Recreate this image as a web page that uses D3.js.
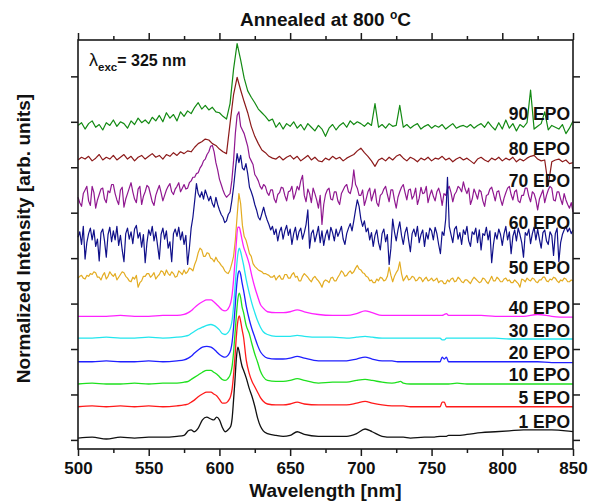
<!DOCTYPE html>
<html>
<head>
<meta charset="utf-8">
<script src="https://cdn.jsdelivr.net/npm/d3@7"></script>
<style>
  html, body { margin: 0; padding: 0; background: #fff; }
  svg { display: block; font-family: "Liberation Sans", Arial, Helvetica, sans-serif; }
</style>
</head>
<body>
<svg id="chart" width="598" height="503"></svg>
<script>
// ---- Photoluminescence spectra, normalized (peak = 100) and stacked ----

// wavelength grid for the low-noise spectra (nm)
const wlFine = [
  500, 510, 520, 530, 540, 550, 560, 570, 575, 578,
  580, 582, 585, 588, 591, 594, 596, 598, 600, 602,
  604, 606, 608, 609, 610, 611, 612, 613, 614, 615,
  616, 617, 619, 621, 623, 625, 627, 629, 631, 634,
  640, 645, 650, 655, 660, 670, 680, 690, 697, 703,
  708, 715, 722, 726, 728, 730, 735, 745, 752, 756,
  757.5, 759, 760.5, 762, 768, 775, 785, 795, 805, 815,
  825, 835, 845, 850
];

const epo1 = [
  0, 1, -1, 1, 0, 1, 1, 2, 3, 8,
  9, 7, 11, 20, 23, 21, 20, 23, 20, 12,
  7, 9, 13, 22, 42, 64, 88, 100, 95, 86,
  79, 75, 66, 55, 46, 35, 22, 13, 8, 5,
  3, 2, 3, 7, 4, 2, 2, 2, 5, 10,
  7, 2, 1, 1, 1, 1, 0, 1, 1, 2,
  2, 2, 2, 3, 3, 4, 6, 7, 8, 9,
  9, 9, 8, 7
];
const epo5 = [
  0, 1, 0, 1, 0, 1, 0, 1, 2, 3,
  5, 7, 11, 14, 16, 16, 14, 12, 8, 4,
  4, 6, 12, 20, 35, 55, 78, 94, 100, 94,
  85, 77, 51, 37, 28, 22, 16, 10, 6, 3,
  2, 2, 3, 5, 3, 2, 2, 2, 4, 6,
  4, 2, 1, 1, 1, 1, 0, 0, 0, 0,
  5, 5, 0, 0, 0, 0, 0, 0, 0, 0,
  0, 0, 0, 0
];
const epo10 = [
  0, 1, 0, 0, 1, 0, 1, 1, 2, 3,
  5, 7, 10, 13, 15, 15, 13, 11, 8, 5,
  4, 6, 12, 20, 35, 55, 76, 93, 100, 95,
  85, 79, 64, 56, 44, 33, 24, 14, 8, 4,
  3, 3, 4, 6, 4, 1, 2, 2, 4, 5,
  4, 2, 1, 2, 3, 1, 0, 0, 0, 0,
  0, 0, 0, 0, 1, 0, 0, 0, 0, 0,
  0, 0, 0, 0
];
const epo20 = [
  0, 0, 1, 0, 0, 1, 0, 1, 2, 4,
  6, 9, 13, 16, 17, 16, 14, 11, 8, 6,
  5, 7, 13, 22, 38, 58, 80, 95, 100, 96,
  87, 79, 61, 47, 36, 27, 18, 11, 7, 4,
  3, 3, 4, 6, 4, 1, 1, 1, 3, 5,
  3, 1, 1, 0, 0, 0, 0, 0, 0, 0,
  5, 3, 5, 0, 0, 0, 0, 0, 0, 0,
  0, -1, -1, -1
];
const epo30 = [
  0, 0, 1, 0, 0, 1, 0, 1, 2, 3,
  5, 7, 10, 12, 14, 15, 14, 12, 9, 5,
  4, 6, 12, 20, 35, 55, 76, 92, 99, 95,
  88, 81, 64, 50, 38, 28, 19, 12, 7, 4,
  2, 2, 2, 3, 2, 1, 1, 0, 1, 2,
  1, 0, 0, 0, 0, 0, 0, 0, 0, 0,
  -2, -2, 0, 0, 0, 0, 0, 0, -1, -1,
  -1, -1, -1, -1
];
const epo40 = [
  0, 0, 0, 1, 0, 0, 1, 1, 2, 4,
  6, 9, 13, 16, 18, 18, 16, 13, 10, 7,
  6, 8, 15, 24, 40, 60, 82, 98, 98, 92,
  84, 77, 68, 58, 44, 32, 22, 13, 9, 5,
  4, 4, 5, 7, 5, 2, 1, 1, 3, 6,
  4, 1, 1, 1, 1, 1, 1, 1, 1, 1,
  1, 2, 3, 1, 1, 1, 1, 0, 0, 0,
  2, 0, -1, -1
];

// the noisiest spectra are sampled every 1.25 nm, the others every 2.5 nm
const wlDense = d3.range(500, 850.01, 1.25);
const wlCoarse = d3.range(500, 850.01, 2.5);

// one row = 25 nm
const epo50 = [
  0, 2, 3, 0, -1, 3, 2, 5, 4, 7, 6, 1, 1, -2, 3, 6, -1, 2, 7, 4,
  2, 5, -2, 1, 4, 7, 6, 2, 0, -3, -4, 1, -1, 3, -10, -5, -3, 2, 2, 5,
  5, 1, 3, 6, -1, 2, 4, 8, 7, 3, 9, 5, 3, 7, 5, 1, 2, 8, 6, 4,
  9, 5, 7, 11, 10, 8, 15, 20, 28, 33, 31, 24, 24, 28, 27, 22, 21, 18, 23, 19,
  17, 14, 12, 8, 6, 5, 9, 16, 24, 42, 68, 93, 82, 58, 46, 42, 35, 27, 24, 16,
  13, 11, 9, 8, 7, 5, 5, 4, 3, 1, 1, 3, -2, 1, 3, -1, -1, 4, 4, 0,
  0, 4, 6, 1, 2, -3, -3, 2, 5, 3, 1, -2, -4, 0, 2, -1, -3, -6, -10, -4,
  -2, -3, -5, 0, 1, -3, -3, 1, 4, 8, 6, 2, 3, 6, 8, 5, 7, 11, 14, 10,
  9, 6, 5, 2, 1, -3, -2, -5, -5, -1, -3, 1, 0, -3, -2, 2, 12, 3, -4, 2,
  6, 9, 18, 5, -3, 0, 3, -2, -1, 2, 1, -3, -2, 1, 0, -4, -1, 1, -3, -2,
  0, -3, -2, 0, -5, -3, -3, -6, -6, -2, -4, -1, 0, -4, -3, 1, -1, -4, -5, -2,
  -2, -4, -6, -2, 1, -1, -3, -5, -4, 0, -1, -4, -6, -2, 2, -3, -3, 1, -1, -4,
  -4, -1, 0, -3, -2, -5, -5, -2, -4, -6, -10, -1, -2, -4, 0, -2, -3, 0, -1, -4,
  -5, -2, -2, 1, 1, -3, -4, -1, -2, 1, 0, -3, -5, -2, -3, 0, -1, -4, -4, -2,
  -3
];
const epo60 = [
  0, 6, -8, 12, -24, -6, 4, 10, -3, 8, -10, -2, -26, 5, 9, -4, -22, 3, 11, -5,
  7, -3, 12, -9, 2, -14, -27, 4, 10, -2, 6, -7, 9, 13, -1, 5, -11, 3, -28, -6,
  8, 2, 12, -4, 6, -9, -24, 3, 10, -2, 7, -12, -5, -27, 4, 9, 1, 11, -3, 6,
  -8, 2, -30, -12, 10, 22, 40, 59, 48, 44, 50, 42, 52, 46, 40, 45, 37, 33, 44, 36,
  30, 25, 22, 16, 18, 25, 28, 40, 55, 74, 92, 82, 90, 76, 74, 81, 70, 55, 50, 44,
  36, 30, 22, 19, 26, 33, 25, 19, 14, 8, 12, 3, 9, -4, 6, 11, -2, 7, 13, 2,
  9, -8, 4, 11, -3, 6, 10, -2, 5, 14, 30, -12, 4, 8, -5, 3, 12, -6, 7, -9,
  2, 8, -3, 11, 5, -4, 9, 1, 6, 12, -2, -8, 4, 10, 15, 7, 18, 30, 41, 34,
  20, 12, 18, 6, 10, -3, 5, -10, 2, 8, -6, -14, 4, 9, -5, 3, -30, -12, 20, 6,
  -4, 8, 17, 2, -8, 5, 11, -3, -16, 4, 9, 1, 12, -6, 3, 8, -10, 5, -2, 10,
  7, -3, 11, 4, -8, -18, 6, 2, 20, 66, 12, 3, -6, 9, 12, -2, 5, -8, 8, 3,
  12, -4, -10, 6, 3, 10, -6, 8, -14, 4, 2, 11, -3, 7, -28, -8, 5, -2, 9, 3,
  -9, 4, 12, -3, 6, -18, 1, 8, -4, 10, 3, -6, -22, 5, 2, 9, -7, 4, 11, -3,
  9, -2, -12, 5, 8, -4, -8, 6, 2, -20, 4, 10, -27, -6, 3, 8, 12, 6, 10, 4,
  8
];
const epo70 = [
  0, -6, -10, 4, 8, 12, -4, -9, 12, 5, -12, -3, 3, 9, 10, -2, -6, 7, 5, 14,
  14, 4, -3, -8, 8, 11, -11, -2, 4, 10, 16, 6, -2, -6, 9, 12, -8, 1, 6, 13,
  11, 3, -5, -9, 2, 8, 13, 5, -4, 2, 8, 12, 15, 6, 3, 9, 12, 16, 6, 10,
  14, 9, 10, 16, 18, 22, 22, 26, 27, 32, 35, 40, 42, 47, 50, 56, 57, 50, 38, 30,
  20, 14, 8, 3, 0, 2, 4, 18, 40, 70, 90, 94, 78, 74, 70, 63, 56, 44, 40, 36,
  25, 22, 18, 12, 9, 14, 12, 5, 2, 8, 8, -2, -6, 3, 5, 11, 10, 2, -4, 6,
  7, 12, -2, 4, 12, 8, 18, 24, 2, -5, 9, 4, -6, 10, 4, -3, -12, 2, -30, -8,
  3, 8, 10, -2, -3, 6, 6, -4, -8, 4, 8, 12, 14, 6, 4, 12, 30, 14, 10, 2,
  2, 8, -9, -2, 6, 10, -4, 3, 9, -6, -10, 2, 4, 9, 12, 3, -5, 8, 8, -3,
  -12, 0, 6, 11, 14, 5, -3, 8, 9, -2, 2, 10, -8, -1, 11, 4, 5, 12, -6, 2,
  8, 1, -4, 6, 10, 3, -9, 4, 2, 9, 12, 5, -5, 3, 6, 12, 10, 6, 17, 9,
  4, 10, -8, -2, 9, 4, -2, 8, 6, -4, -10, 2, 3, 9, 11, 4, -4, 6, 7, -2,
  -9, -1, 5, 10, 12, 3, -3, 6, 8, -4, -6, 2, 2, 10, 10, 1, -5, 6, 4, -3,
  -14, -2, 3, 8, -6, 2, 8, 12, 10, -3, -4, 6, 6, -2, -8, 4, -3, -8, -12, -6,
  -16
];
// one row = 25 nm
const epo80 = [
  -2, 1, -1, 2, -3, 0, 4, -2, 1, -1,
  3, -2, 1, 4, -1, 2, -3, 1, 3, -1,
  2, 5, 1, 3, -1, 4, 2, 6, 3, 7,
  5, 8, 7, 12, 16, 18, 21, 20, 16, 14,
  10, 7, 5, 38, 70, 89, 75, 62, 50, 35,
  24, 16, 9, 6, 2, 0, -1, 2, -2, 1,
  3, -1, 2, -3, 0, 3, -2, 1, -3, -4,
  0, -2, 2, -1, 1, -3, 0, 2, 4, 8,
  11, 6, 2, -3, -9, -2, 0, -3, 1, -2,
  2, 4, 0, -3, 1, -1, -4, 0, -2, 1,
  -3, 0, -1, 2, -2, 0, -4, -1, 1, -2,
  0, -3, -6, -1, 1, -2, -4, 0, -2, 1,
  -3, 0, -2, 1, -4, -1, -3, 0, 2, 3,
  -1, -3, -2, -30, -4, -2, -1, -4, -2, -6,
  -5
];
const epo90 = [
  0, 3, -4, 2, 5, -2, 1, -5, 3, 0,
  6, -1, 4, 2, -3, 5, 1, 8, 3, 6,
  2, 9, 5, 11, 4, 14, 8, 12, 5, 15,
  10, 16, 13, 20, 25, 18, 22, 17, 20, 15,
  14, 10, 7, 24, 62, 90, 72, 52, 38, 31,
  25, 18, 14, 10, 5, 7, -2, 3, -4, 2,
  -1, 4, -3, 1, -5, 2, -2, -6, 0, -4,
  -12, -3, 1, -5, 0, 3, -2, 5, 1, 4,
  2, -1, 3, 0, 24, -2, 1, -3, 2, -1,
  0, 22, -2, 1, -3, 0, 2, -4, -1, 1,
  -3, 0, -2, 1, -4, -1, 2, -3, -1, 0,
  -2, 1, -3, 0, 2, -2, 4, -1, -5, 3,
  -4, 6, -3, 2, -6, 1, -2, 3, 39, -4,
  -1, 2, 15, -5, 0, -2, -4, 1, -9, -3,
  5
];

const seriesNames = ["1 EPO", "5 EPO", "10 EPO", "20 EPO", "30 EPO", "40 EPO",
                     "50 EPO", "60 EPO", "70 EPO", "80 EPO", "90 EPO"];
const seriesValues = [epo1, epo5, epo10, epo20, epo30, epo40, epo50, epo60, epo70, epo80, epo90];
const seriesGrid = [wlFine, wlFine, wlFine, wlFine, wlFine, wlFine,
                    wlDense, wlDense, wlDense, wlCoarse, wlCoarse];
// vertical stacking offset of each spectrum
const offsets = [2, 36.5, 61.5, 86, 112, 136, 178, 223, 267, 310, 346];
// level (same units) at which each spectrum's name is written
const labelLevels = [13, 40, 64.5, 89, 113, 139, 182, 232, 278, 313, 352];
const colors = ["#111111", "#ff1a1a", "#1ee01e", "#1f1fff", "#22e6ee", "#ff22ff",
                "#e3ac22", "#10108a", "#901890", "#8c1a1a", "#138a13"];

const xMajor = [500, 550, 600, 650, 700, 750, 800, 850];
const xMinor = [525, 575, 625, 675, 725, 775, 825];
const yMajor = [0, 50, 100, 150, 200, 250, 300, 350, 400];

// ---- layout ----
const svg = d3.select("#chart");
const plotLeft = 78, plotRight = 573, plotTop = 40, plotBottom = 449;

const x = d3.scaleLinear().domain([500, 850]).range([plotLeft, plotRight]);
const y = d3.scaleLinear().domain([-10, 440]).range([plotBottom, plotTop]);

// ---- spectra ----
const smoothLine = d3.line()
  .x(d => x(d[0])).y(d => y(d[1]))
  .curve(d3.curveMonotoneX);
const rawLine = d3.line()
  .x(d => x(d[0])).y(d => y(d[1]));

const plot = svg.append("g");
for (let i = seriesNames.length - 1; i >= 0; i--) {
  const pts = seriesGrid[i].map((w, k) => [w, offsets[i] + seriesValues[i][k]]);
  plot.append("path")
    .attr("d", (i < 6 ? smoothLine : rawLine)(pts))
    .attr("fill", "none")
    .attr("stroke", colors[i])
    .attr("stroke-width", i < 6 ? 1.3 : 1.2)
    .attr("stroke-linejoin", "round");
}

// ---- frame and ticks ----
svg.append("rect")
  .attr("x", plotLeft).attr("y", plotTop)
  .attr("width", plotRight - plotLeft).attr("height", plotBottom - plotTop)
  .attr("fill", "none").attr("stroke", "#1a1a1a").attr("stroke-width", 1.6);

function styleAxis(g) {
  g.select(".domain").remove();
  g.selectAll(".tick line").attr("stroke", "#1a1a1a").attr("stroke-width", 1.5);
}

const bottomAxis = svg.append("g")
  .attr("transform", `translate(0,${plotBottom})`)
  .call(d3.axisBottom(x).tickValues(xMajor).tickSize(7).tickFormat(d3.format("d")))
  .call(styleAxis);
bottomAxis.selectAll(".tick text")
  .attr("y", 25).attr("dy", 0)
  .attr("fill", "#111")
  .style("font-size", "17px").style("font-weight", "bold")
  .style("font-family", "'Liberation Sans', Arial, sans-serif");
svg.append("g").attr("transform", `translate(0,${plotBottom})`)
  .call(d3.axisBottom(x).tickValues(xMinor).tickSize(4).tickFormat(""))
  .call(styleAxis);

svg.append("g").attr("transform", `translate(0,${plotTop})`)
  .call(d3.axisTop(x).tickValues(xMajor).tickSize(7).tickFormat(""))
  .call(styleAxis);
svg.append("g").attr("transform", `translate(0,${plotTop})`)
  .call(d3.axisTop(x).tickValues(xMinor).tickSize(4).tickFormat(""))
  .call(styleAxis);

svg.append("g").attr("transform", `translate(${plotLeft},0)`)
  .call(d3.axisLeft(y).tickValues(yMajor).tickSize(7).tickFormat(""))
  .call(styleAxis);
svg.append("g").attr("transform", `translate(${plotRight},0)`)
  .call(d3.axisRight(y).tickValues(yMajor).tickSize(7).tickFormat(""))
  .call(styleAxis);

// ---- text ----
const title = svg.append("text")
  .attr("x", (plotLeft + plotRight) / 2).attr("y", 26)
  .attr("text-anchor", "middle")
  .style("font-size", "19px").style("font-weight", "bold").attr("fill", "#111");
title.append("tspan").text("Annealed at 800 ");
title.append("tspan").text("o").attr("dy", -7).style("font-size", "12px");
title.append("tspan").text("C").attr("dy", 7);

svg.append("text")
  .attr("x", (plotLeft + plotRight) / 2).attr("y", 497)
  .attr("text-anchor", "middle")
  .style("font-size", "19px").style("font-weight", "bold").attr("fill", "#111")
  .text("Wavelength [nm]");

svg.append("text")
  .attr("transform", "translate(30,238.5) rotate(-90)")
  .attr("text-anchor", "middle")
  .style("font-size", "19px").style("font-weight", "bold").attr("fill", "#111")
  .text("Normalized Intensity [arb. units]");

const exc = svg.append("text")
  .attr("x", 89).attr("y", 66)
  .style("font-weight", "bold").attr("fill", "#111");
exc.append("tspan").text("λ").style("font-size", "18px").style("font-weight", "normal");
exc.append("tspan").text("exc").attr("dy", 5).style("font-size", "11.5px");
exc.append("tspan").text("= 325 nm").attr("dy", -5).style("font-size", "16px");

svg.append("g").selectAll("text")
  .data(seriesNames)
  .join("text")
  .attr("x", 570)
  .attr("y", (d, i) => y(labelLevels[i]))
  .attr("text-anchor", "end")
  .style("font-size", "17.5px").style("font-weight", "bold").attr("fill", "#111")
  .text(d => d);
</script>
</body>
</html>
